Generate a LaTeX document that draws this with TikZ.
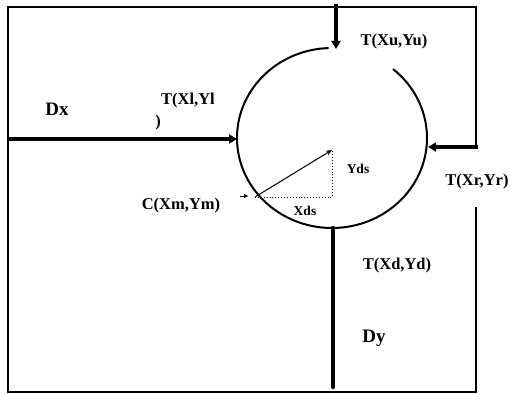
\documentclass[tikz,border=0pt]{standalone}
\usepackage{fontspec}
\setmainfont{Liberation Serif}
\usetikzlibrary{arrows.meta}
\begin{document}
\begin{tikzpicture}[x=1pt,y=1pt,
  frame/.style={line width=1.5pt},
  thickarrow/.style={line width=4.2pt,-{Triangle[length=8pt,width=9pt]}},
  thickline/.style={line width=4.2pt,line cap=round},
  lbl/.style={font=\fontsize{16.5}{18}\selectfont\bfseries,inner sep=0pt},
  big/.style={font=\fontsize{19}{21}\selectfont\bfseries,inner sep=0pt},
  small/.style={font=\fontsize{13.5}{15}\selectfont\bfseries,inner sep=0pt}]
\useasboundingbox[fill=white] (0,0) rectangle (511,395);
% coordinates
\coordinate (rtop) at (476,247);
\coordinate (rbot) at (476,188);
\coordinate (tl) at (8,388);
\coordinate (bl) at (8,3);
\coordinate (tr) at (476,388);
\coordinate (br) at (476,3);
\coordinate (c) at (332,257);
\coordinate (upS) at (336,391);
\coordinate (upE) at (336,346);
\coordinate (lS) at (8,256);
\coordinate (lE) at (237,256);
\coordinate (rS) at (478,248);
\coordinate (rE) at (428,248);
\coordinate (dS) at (333,167);
\coordinate (dE) at (333,8);
\coordinate (m) at (255,198);
\coordinate (v) at (332,245);
\coordinate (corner) at (332,198);
\coordinate (saS) at (240,199);
\coordinate (saE) at (248,199);
% frame
\draw[frame] (rtop) -- (tr) -- (tl) -- (bl) -- (br) -- (rbot);
% circle (open arc)
\draw[line width=2pt] ([shift={(92:95 and 90)}]c) arc[start angle=92,end angle=410,x radius=95,y radius=90];
% thick connectors
\draw[thickarrow] (upS) -- (upE);
\draw[thickarrow] (lS) -- (lE);
\draw[thickarrow] (rS) -- (rE);
\draw[thickline] (dS) -- (dE);
% vector
\draw[line width=1pt,-{Stealth[length=6pt,width=5pt]}] (m) -- (v);
\draw[dotted,line width=0.9pt] (m) -- (corner) -- (v);
\draw[line width=0.8pt,-{Triangle[length=4pt,width=4pt]}] (saS) -- (saE);
% labels
\node[big] (dx) at (57,286) {Dx};
\node[lbl] (tl1) at (188,294) {T(Xl,Yl};
\node[lbl] (tl2) at (158,272) {)};
\node[lbl] (tu) at (394,353) {T(Xu,Yu)};
\node[small] (yds) at (358,226) {Yds};
\node[lbl] (tr1) at (477,213) {T(Xr,Yr)};
\node[lbl] (cm) at (181,189) {C(Xm,Ym)};
\node[small] (xds) at (305,184) {Xds};
\node[lbl] (td) at (397,129) {T(Xd,Yd)};
\node[big] (dy) at (374,57) {Dy};
\end{tikzpicture}
\end{document}
